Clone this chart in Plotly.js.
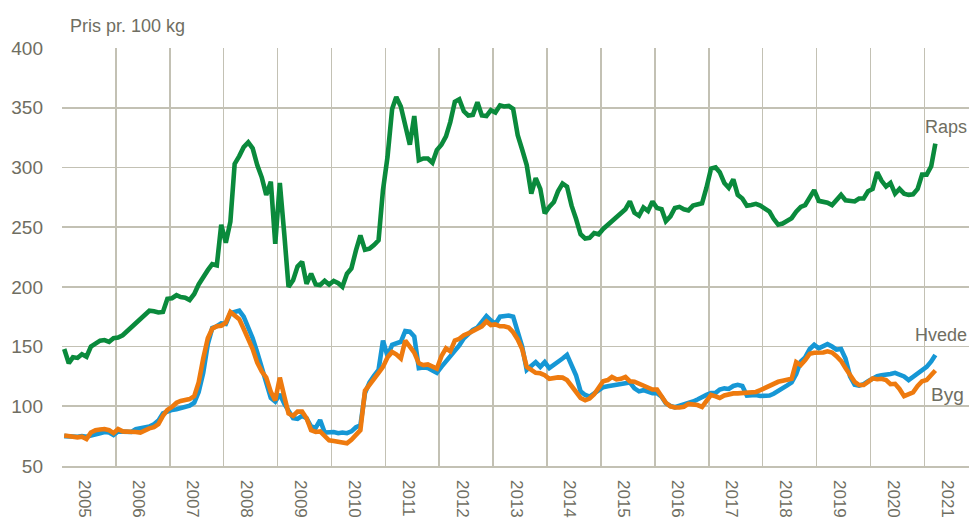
<!DOCTYPE html>
<html><head><meta charset="utf-8">
<script src="https://cdn.plot.ly/plotly-3.0.1.min.js"></script>
<style>html,body{margin:0;padding:0;background:#fff;} #chart{width:969px;height:518px;}</style>
</head><body><div id="chart"></div>
<script>
const startYear = 2005;
const seriesNames = ['Raps', 'Hvede', 'Byg'];
const yTitle = 'Pris pr. 100 kg';

// monthly prices, Jan 2005 - Mar 2021
const raps = [
 148,136,141,140.5,143.5,141.5,150,153,155,155.5,154,157,
 157.5,159.5,162.5,166,169.5,173,176,180,179.5,178.5,179,190,
 190.5,193,191.5,191,189,194,202,208.5,214,219,218,252,
 237,254.5,303,309.5,317,321,316,302,291.5,277,288,236,
 287,243,200,205.5,217,221,202.5,211,202,201.5,205,202,
 205,203,200,211,215.5,230.5,243,231,232,235,239,281,
 309,349,359,351,334,319,343,306,307.5,307.5,304,314.5,
 319,326,338,355,357,347,343.5,344,354.5,343.5,343,348,
 346,352,351,351.5,349,327,315,302,278,291,282,261.5,
 267,271,280,286.5,284,268,257,244,240.5,241,245,244,
 248.5,252,255.5,258.5,262,265,271.5,262,259.5,266.5,263.5,271.5,
 266,265,255,259,266,267,265,264,268,269,270,283,
 299,300,296,287,283,290,277,274,268,268.5,269.5,268,
 265.5,263,257,252,253,255,257.5,263,267,268.5,275,281,
 272,271.5,270.5,268.5,272.5,277,272.5,272,271.5,274,274,280,
 282,296,289,284,287,278,282,278,277,277.5,282,294,
 294,301,320
];
const hvede = [
 75,74.5,74.5,74.5,75,74.5,75.5,77,77.5,78.5,78,76,
 79,78.8,78.8,78.5,80.8,81.6,81.6,83,85,88,94,95.5,
 97,97.5,98.5,99,100.5,103,112,128,152,165.5,167,169.5,
 169,178,179,180,175,166,157,145,131,118,107,104,
 110,102,96,90,89.5,92,90,83,82,88.5,78,78,
 78.5,77.5,78,77.5,79,82.5,84,111,120,125.5,130.5,155,
 142,151.5,152.5,154,163,162.5,158.5,132,132.5,132,130,128,
 133,137.5,141.5,146,151,157,160.5,164,166,171,175.5,172,
 169,175,175.5,176,175,162,150,130.5,134.5,137,133,137,
 132,134.5,136.5,140,143,135,126,112.5,109.5,108,110.5,114,
 116,116.8,117.5,118,118.6,120,120,115,112.5,113.5,112.5,111,
 111,108,102.5,100.2,99.2,100.2,102,103,104,105.7,108,109.5,
 111,111.2,114,115,114.5,117,118,117,109,109.5,109.5,108.6,
 108.6,109,110.5,112.5,115,117.5,120,127,137.5,141,148,151.5,
 148.5,150.5,152,150,147.5,148,140,125,118,117.2,118.5,121,
 123.5,125.2,126,126.2,127,128,127,125,122,124.5,127,129.5,
 133,137.5,143
];
const byg = [
 75.5,75,74.5,74,74.5,72.5,78,80,80.5,81,80,77.5,
 81,79,78.8,78.2,78.5,78,80,81.5,82.5,85,92,97,
 99.5,103,104.5,105.5,106,108.5,120,140,157,165,167,167.5,
 170,179,176.5,173,165,156,148,136.5,129,124,112,105,
 124,108,94,92,95.5,95.5,90,80,78.5,79,75,71.5,
 71,70,69.5,69,72,76.5,80,113,118.5,124,128,133,
 141,145.5,143.5,140,155,150,145,136,134.5,135,133.5,131.5,
 142,148.5,146,155,156.5,159.5,161,163,164.5,167,171,168,
 168.5,167,167,166,162,156,148,133,130.5,128,127.6,126,
 123,124,124.2,124,122,117,111.5,107,105,106.5,110,115,
 121,122,124.5,122.5,123,124.5,121,120.6,119,118,116,114,
 114,107.5,103,100,99,99,99.5,102,101.5,101,99.5,105,
 109.5,108.3,107,109,110.2,110.8,110.8,111,111.4,111.4,112,113.5,
 115.5,117,118.5,120.5,121.4,122,123,137,134.5,138.7,144,144.8,
 144.8,145,146,145,142,138,132,127,120.5,117.8,117.8,120.5,
 123.4,122.6,123,122,118.5,118.8,114.5,108.5,110,111.7,117,121,
 122,126.5,130
];
const yTicks = [50,100,150,200,250,300,350,400];

function monthDates(n){
  const out=[];
  for(let i=0;i<n;i++){
    const y=startYear+Math.floor(i/12), m=i%12+1;
    out.push(y+'-'+String(m).padStart(2,'0')+'-16');
  }
  return out;
}
const colors = {Raps:'#0a8a3c', Hvede:'#1697d5', Byg:'#ee7a0e'};
const txt = '#6f6e62';
const grid = '#c3c1b4';
const font = '"Liberation Sans",Arial,sans-serif';

const data = [
  {name:'Raps', y:raps},
  {name:'Hvede', y:hvede},
  {name:'Byg', y:byg}
].map(s=>({type:'scatter',mode:'lines',name:s.name,x:monthDates(s.y.length),y:s.y,
  line:{color:colors[s.name],width:4.6},hoverinfo:'skip'}));

const layout = {
  width:969,height:518,
  margin:{l:62,r:0,t:48,b:52},
  paper_bgcolor:'#fff',plot_bgcolor:'#fff',
  showlegend:false,
  font:{family:font,size:18,color:txt},
  xaxis:{type:'date',range:['2005-01-01','2021-10-30'],tick0:'2005-01-01',dtick:'M12',
    tickformat:'%Y',ticklabelmode:'period',tickangle:90,ticks:'',ticklabelstandoff:9,ticklabelshift:-4,
    showgrid:true,gridcolor:grid,gridwidth:1.6,showline:true,linecolor:grid,linewidth:1.6,
    zeroline:false,tickfont:{family:font,size:17,color:txt},fixedrange:true},
  yaxis:{range:[50,400],tickvals:yTicks,ticks:'',ticklabelstandoff:18,
    showgrid:true,gridcolor:grid,gridwidth:1.6,showline:false,zeroline:false,
    tickfont:{family:font,size:19,color:txt},fixedrange:true},
  annotations:[
    {xref:'paper',yref:'paper',x:0.0066,y:1.053,xanchor:'left',yanchor:'middle',text:yTitle,showarrow:false,font:{family:font,size:18,color:txt}},
    {xref:'paper',yref:'y',x:1,y:334,xanchor:'right',yanchor:'middle',text:seriesNames[0],showarrow:false,font:{family:font,size:18,color:txt}},
    {xref:'paper',yref:'y',x:1,y:160,xanchor:'right',yanchor:'middle',text:seriesNames[1],showarrow:false,font:{family:font,size:18,color:txt}},
    {xref:'paper',yref:'y',x:0.956,y:109.5,xanchor:'left',yanchor:'middle',text:seriesNames[2],showarrow:false,font:{family:font,size:19,color:txt}}
  ]
};
Plotly.newPlot('chart',data,layout,{displayModeBar:false,staticPlot:true});
</script></body></html>
